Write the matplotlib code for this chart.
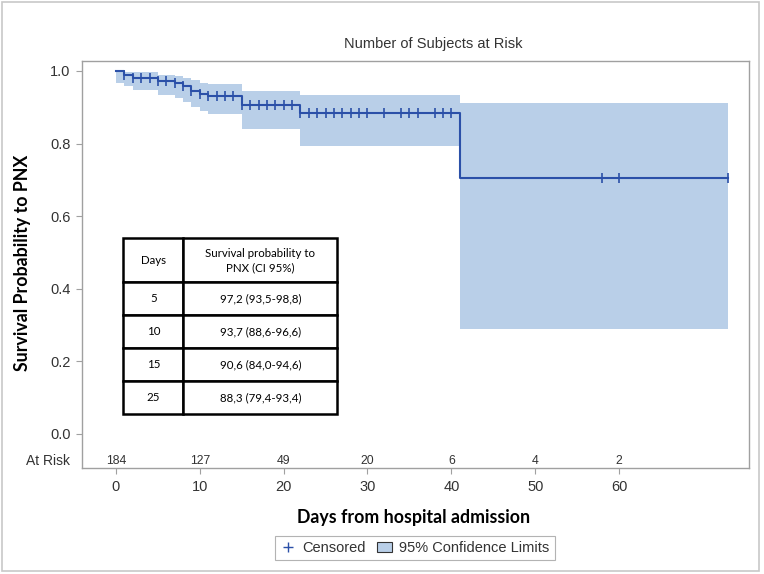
import numpy as np
import matplotlib
matplotlib.use("Agg")
import matplotlib.pyplot as plt
from matplotlib.lines import Line2D
from matplotlib.patches import Patch, Rectangle

# Kaplan-Meier steps (days, survival, 95% CI)
step_days = [0, 1, 2, 5, 7, 8, 9, 10, 11, 15, 22, 41]
survival = [1.0, 0.989, 0.980, 0.972, 0.966, 0.959, 0.946, 0.937, 0.930, 0.906, 0.883, 0.706]
ci_lower = [0.966, 0.960, 0.948, 0.935, 0.926, 0.915, 0.902, 0.890, 0.882, 0.840, 0.794, 0.288]
ci_upper = [1.0, 0.998, 0.996, 0.988, 0.985, 0.980, 0.975, 0.968, 0.964, 0.946, 0.934, 0.911]
last_day = 73

censored_days = list(range(1, 31)) + [32, 34, 35, 36, 38, 39, 40, 58, 60, 73]

risk_days = [0, 10, 20, 30, 40, 50, 60]
at_risk = [184, 127, 49, 20, 6, 4, 2]

table_days = ["5", "10", "15", "25"]
table_surv = ["97,2 (93,5-98,8)", "93,7 (88,6-96,6)", "90,6 (84,0-94,6)", "88,3 (79,4-93,4)"]

line_col = "#2B50A8"
band_col = "#B9CFE8"
sas_font = ["Liberation Sans", "DejaVu Sans"]
narrow_font = ["Liberation Sans Narrow", "Liberation Sans", "DejaVu Sans"]
label_font = ["Lato", "DejaVu Sans"]

W, H = 764, 574
fig = plt.figure(figsize=(W / 100, H / 100), dpi=100)

def fx(px):
    return px / W

def fy(py):
    return 1 - py / H

# outer border
fig.patches.append(Rectangle((fx(2), fy(571)), fx(757), 569 / H, transform=fig.transFigure,
                             fill=False, edgecolor="#C8C8C8", linewidth=1.2))

ax = fig.add_axes([fx(82.3), fy(468.3), fx(749 - 82.3), (468.3 - 61) / H])

t = np.array(step_days, dtype=float)
s = np.array(survival)
t_ext = np.append(t, last_day)
ax.fill_between(t_ext, np.append(ci_lower, ci_lower[-1]), np.append(ci_upper, ci_upper[-1]),
                step="post", color=band_col, linewidth=0)
ax.step(t_ext, np.append(s, s[-1]), where="post", color=line_col, linewidth=1.5)

c = np.array(censored_days, dtype=float)
idx = np.searchsorted(t, c, side="right") - 1
ax.plot(c, s[idx], linestyle="none", marker="|", markersize=7.5, markeredgewidth=1.2, color=line_col)

ax.set_xlim(-4.02, 75.51)
ax.set_ylim(-0.0945, 1.0275)
ax.set_xticks(risk_days)
ax.set_yticks([0, 0.2, 0.4, 0.6, 0.8, 1.0])
ax.set_yticklabels(["0.0", "0.2", "0.4", "0.6", "0.8", "1.0"])
ax.tick_params(axis="both", direction="out", length=4.5, width=0.8, color="#A0A0A0",
               labelcolor="#333333", labelsize=10.5, pad=4)
for lab in ax.get_xticklabels() + ax.get_yticklabels():
    lab.set_family(sas_font)
for sp in ax.spines.values():
    sp.set_color("#A0A0A0")
    sp.set_linewidth(1.0)

# at risk row
for d, n in zip(risk_days, at_risk):
    ax.text(d, -0.074, str(n), ha="center", va="center", fontsize=8.8,
            family=narrow_font, color="#333333")
ax.annotate("At Risk", xy=(0, -0.074), xycoords=("axes fraction", "data"),
            xytext=(-9, 0), textcoords="offset points", ha="right", va="center",
            fontsize=10, family=sas_font, color="#333333")

fig.text(fx(433), fy(44), "Number of Subjects at Risk", ha="center", va="center",
         fontsize=10.5, family=sas_font, color="#333333")
fig.text(fx(414), fy(517), "Days from hospital admission", ha="center", va="center",
         fontsize=12.8, fontweight="bold", family=label_font)
fig.text(fx(23), fy(263), "Survival Probability to PNX", ha="center", va="center",
         rotation=90, fontsize=12.8, fontweight="bold", family=label_font)

# inset table
tax = fig.add_axes([fx(123.3), fy(414.3), fx(337.3 - 123.3), (414.3 - 238.3) / H])
tax.axis("off")
rows = [[d, v] for d, v in zip(table_days, table_surv)]
tbl = tax.table(cellText=rows, colLabels=["Days", "Survival probability to\nPNX (CI 95%)"],
                colWidths=[60, 154], cellLoc="center", bbox=[0, 0, 1, 1])
tbl.auto_set_font_size(False)
for (r, col), cell in tbl.get_celld().items():
    cell.set_edgecolor("black")
    cell.set_linewidth(1.8)
    cell.set_facecolor("white")
    cell.set_height(44 if r == 0 else 33)
    cell.get_text().set_fontsize(8.3)
    cell.get_text().set_family(label_font)
    cell.get_text().set_linespacing(1.35)

handles = [Line2D([], [], linestyle="none", marker="+", markersize=7, markeredgewidth=1.0, color=line_col),
           Patch(facecolor=band_col, edgecolor="#333333", linewidth=0.8)]
leg = fig.legend(handles, ["Censored", "95% Confidence Limits"], loc="center",
                 bbox_to_anchor=(fx(415), fy(548)), ncol=2, frameon=True, fancybox=False,
                 prop={"family": sas_font, "size": 10.5}, handlelength=1.0, handletextpad=0.5,
                 columnspacing=0.8, borderpad=0.35)
leg.get_frame().set_edgecolor("#A0A0A0")
leg.get_frame().set_linewidth(0.8)
for txt in leg.get_texts():
    txt.set_color("#333333")

fig.savefig("out.png", dpi=100)
